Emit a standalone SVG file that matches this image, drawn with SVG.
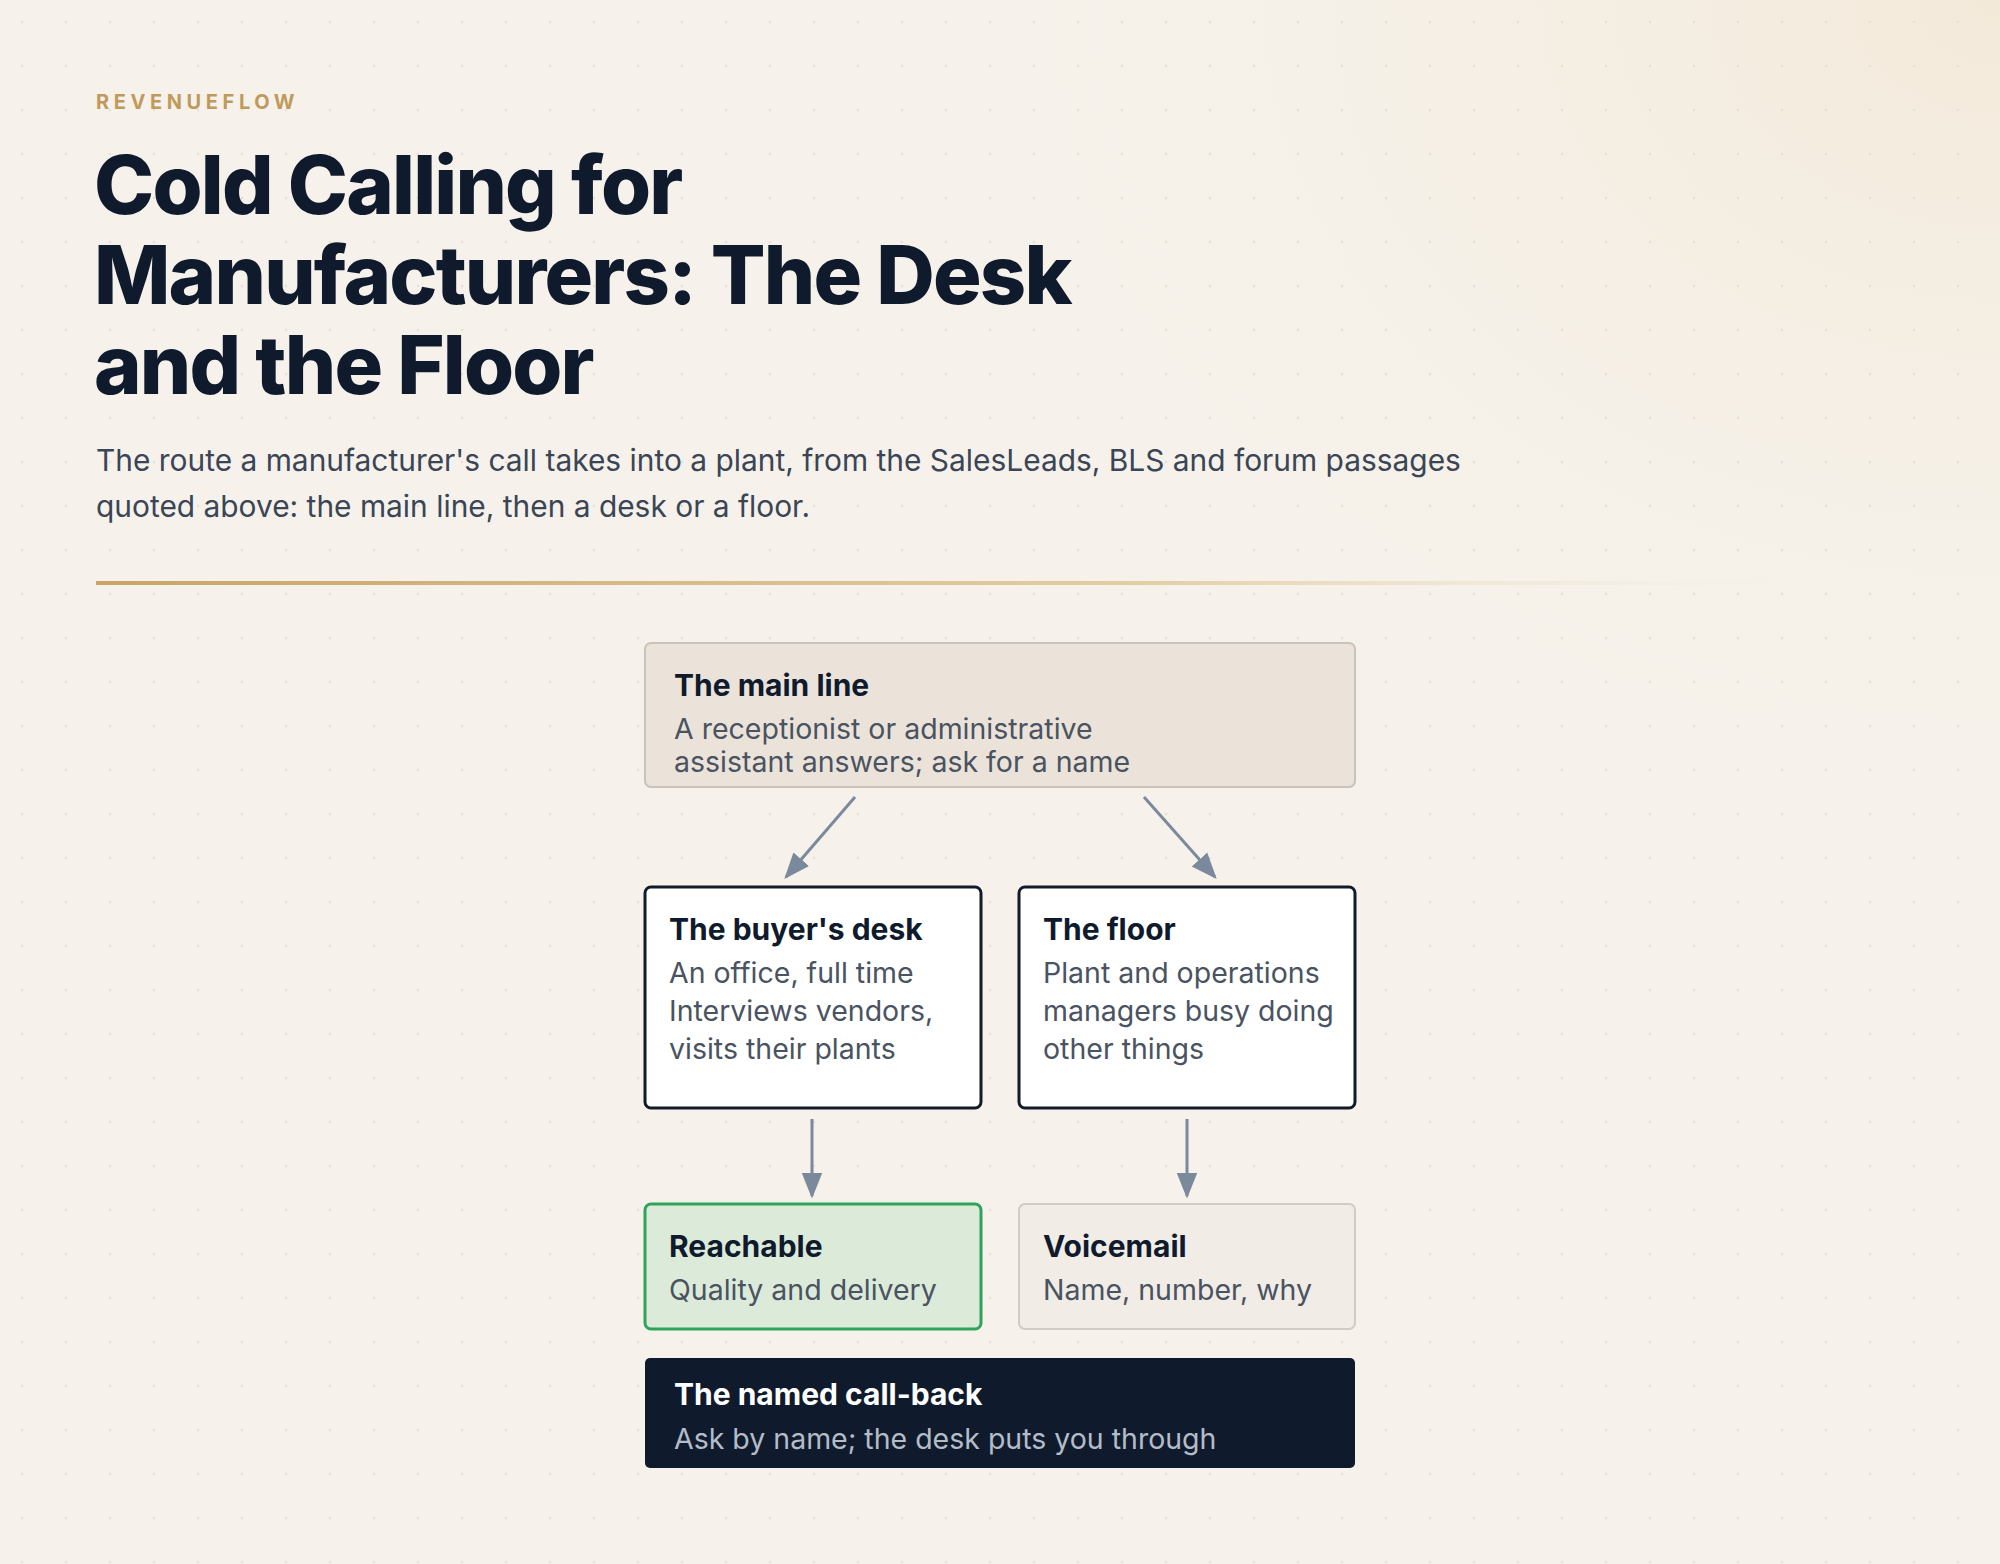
<svg xmlns="http://www.w3.org/2000/svg" width="2000" height="1564" viewBox="0 0 2000 1564">
<defs>
<pattern id="dots" width="44" height="44" patternUnits="userSpaceOnUse"><circle cx="22" cy="22" r="1.3" fill="#e6e0d6"/></pattern>
<radialGradient id="glow" cx="1" cy="0" r="0.6"><stop offset="0" stop-color="#f3e9d9"/><stop offset="1" stop-color="#f6f2eb" stop-opacity="0"/></radialGradient>
<linearGradient id="rule" x1="0" x2="1"><stop offset="0" stop-color="#c9a466"/><stop offset="0.6" stop-color="#e3cfa5"/><stop offset="1" stop-color="#f6f2eb" stop-opacity="0"/></linearGradient>
<marker id="a" viewBox="0 0 10 10" refX="9" refY="5" markerWidth="26" markerHeight="26" markerUnits="userSpaceOnUse" orient="auto"><path d="M0,1 L10,5 L0,9 z" fill="#7a8a9c"/></marker>
</defs>
<style>
text{font-family:Inter,"Noto Sans","Liberation Sans",sans-serif}
.t{font-size:30px;font-weight:700;fill:#0f1b2d}
.b{font-size:28.5px;fill:#4a5361}
.edge{stroke:#7a8a9c;stroke-width:3;fill:none;marker-end:url(#a)}
</style>
<rect width="2000" height="1564" fill="#f6f2eb"/>
<rect width="2000" height="1564" fill="url(#glow)"/>
<rect width="2000" height="1564" fill="url(#dots)"/>
<g id="header">
<text x="96" y="109" font-size="20" font-weight="700" fill="#c09a5b" letter-spacing="4.6">REVENUEFLOW</text>
<text font-size="81" font-weight="800" fill="#0f1b2d" letter-spacing="-1.8"><tspan x="94" y="214">Cold Calling for</tspan><tspan x="94" y="304">Manufacturers: The Desk</tspan><tspan x="94" y="394">and the Floor</tspan></text>
<text font-size="29.9" fill="#3a4556"><tspan x="96" y="471">The route a manufacturer's call takes into a plant, from the SalesLeads, BLS and forum passages</tspan><tspan x="96" y="517">quoted above: the main line, then a desk or a floor.</tspan></text>
<rect x="96" y="581" width="1764" height="4" fill="url(#rule)"/>
</g>
<g id="connectors">
<line class="edge" x1="855" y1="797" x2="786" y2="877"/>
<line class="edge" x1="1144" y1="797" x2="1215" y2="877"/>
<line class="edge" x1="812" y1="1119" x2="812" y2="1196"/>
<line class="edge" x1="1187" y1="1119" x2="1187" y2="1196"/>
</g>
<g id="main-line">
<rect x="645" y="643" width="710" height="144" rx="6" fill="#ebe3da" stroke="#c9c3bb" stroke-width="2"/>
<text class="t" x="674" y="696">The main line</text>
<text class="b"><tspan x="674" y="739">A receptionist or administrative</tspan><tspan x="674" y="772">assistant answers; ask for a name</tspan></text>
</g>
<g id="buyers-desk">
<rect x="645" y="887" width="336" height="221" rx="6" fill="#ffffff" stroke="#111b2a" stroke-width="3"/>
<text class="t" x="669" y="940">The buyer's desk</text>
<text class="b"><tspan x="669" y="983">An office, full time</tspan><tspan x="669" y="1021">Interviews vendors,</tspan><tspan x="669" y="1059">visits their plants</tspan></text>
</g>
<g id="floor">
<rect x="1019" y="887" width="336" height="221" rx="6" fill="#ffffff" stroke="#111b2a" stroke-width="3"/>
<text class="t" x="1043" y="940">The floor</text>
<text class="b"><tspan x="1043" y="983">Plant and operations</tspan><tspan x="1043" y="1021">managers busy doing</tspan><tspan x="1043" y="1059">other things</tspan></text>
</g>
<g id="reachable">
<rect x="645" y="1204" width="336" height="125" rx="6" fill="#dcebd9" stroke="#2ea35a" stroke-width="3"/>
<text class="t" x="669" y="1257">Reachable</text>
<text class="b" x="669" y="1300">Quality and delivery</text>
</g>
<g id="voicemail">
<rect x="1019" y="1204" width="336" height="125" rx="6" fill="#f1ece6" stroke="#d0ccc6" stroke-width="2"/>
<text class="t" x="1043" y="1257">Voicemail</text>
<text class="b" x="1043" y="1300">Name, number, why</text>
</g>
<g id="named-call-back">
<rect x="645" y="1358" width="710" height="110" rx="5" fill="#0f1b2d"/>
<text class="t" x="674" y="1405" style="fill:#ffffff">The named call-back</text>
<text class="b" x="674" y="1449" style="fill:#b4bcc8">Ask by name; the desk puts you through</text>
</g>
</svg>
